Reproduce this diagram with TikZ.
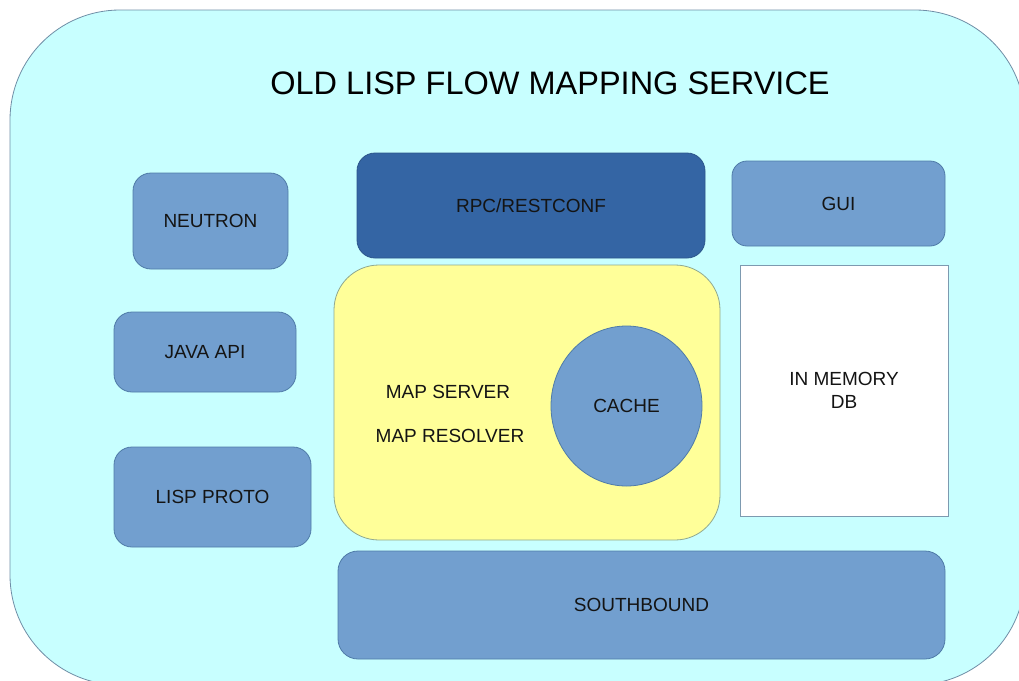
\documentclass[tikz,border=0pt]{standalone}
\usepackage{fontspec}
\setmainfont{Liberation Sans}
\usetikzlibrary{positioning,shapes.geometric}

\definecolor{svcfill}{HTML}{C8FFFF}
\definecolor{svcline}{HTML}{6F8EA6}
\definecolor{boxfill}{HTML}{729FCF}
\definecolor{boxline}{HTML}{4F7BA8}
\definecolor{rpcfill}{HTML}{3465A4}
\definecolor{corefill}{HTML}{FFFF99}
\definecolor{coreline}{HTML}{8FA890}
\definecolor{dbline}{HTML}{7D9AB0}
\definecolor{ink}{HTML}{141414}

\tikzset{
  labelfont/.style={font=\fontsize{19}{23}\selectfont},
  svc/.style={draw=svcline, fill=svcfill, line width=0.8pt, rounded corners=110pt,
    rectangle, inner sep=0pt},
  blockbox/.style={draw=boxline, fill=boxfill, line width=0.8pt, rectangle,
    rounded corners=18pt, text=ink, labelfont},
  rpcbox/.style={blockbox, fill=rpcfill, draw=rpcfill!85!black},
  corebox/.style={draw=coreline, fill=corefill, line width=0.8pt, rectangle,
    rounded corners=45pt},
  cachenode/.style={draw=boxline, fill=boxfill, line width=0.8pt, ellipse,
    text=ink, labelfont},
  dbbox/.style={draw=dbline, fill=white, line width=0.8pt, rectangle, text=ink,
    align=center, labelfont},
  plain/.style={text=ink, labelfont},
  title/.style={text=black, font=\fontsize{32.5}{38}\selectfont}
}

\begin{document}
\begin{tikzpicture}[x=1pt, y=-1pt]
  \useasboundingbox (0,0) rectangle (1019,680);
  \clip (0,0) rectangle (1019,680);

  % service container, running past the right and bottom edges
  \node[svc, minimum width=1015pt, minimum height=675pt] (service) at (517.5,347.5) {};
  \node[title] (heading) at (550,83) {OLD LISP FLOW MAPPING SERVICE};

  % northbound side
  \node[blockbox, minimum width=155pt, minimum height=96pt] (neutron) at (210.5,221) {NEUTRON};
  \node[blockbox, minimum width=182pt, minimum height=80pt] (javaapi) at (205,352) {JAVA API};
  \node[blockbox, minimum width=197pt, minimum height=100pt] (lispproto) at (212.5,497) {LISP PROTO};

  \node[rpcbox, minimum width=348pt, minimum height=105pt] (rpc) at (531,205.5) {RPC/RESTCONF};
  \node[blockbox, minimum width=213pt, minimum height=85pt, rounded corners=15pt] (gui) at (838.5,203.5) {GUI};

  % mapping core
  \node[corebox, minimum width=386pt, minimum height=275pt] (core) at (527,402.5) {};
  \node[plain] (mapserver) at (448,392) {MAP SERVER};
  \node[plain] (mapresolver) at (450,436) {MAP RESOLVER};
  \node[cachenode, minimum width=151pt, minimum height=160pt] (cache) at (626.5,406) {CACHE};

  \node[dbbox, minimum width=208pt, minimum height=251pt] (db) at (844,390.5) {IN MEMORY\\DB};

  % southbound side
  \node[blockbox, minimum width=607pt, minimum height=108pt, rounded corners=20pt] (south) at (641.5,605) {SOUTHBOUND};
\end{tikzpicture}
\end{document}
